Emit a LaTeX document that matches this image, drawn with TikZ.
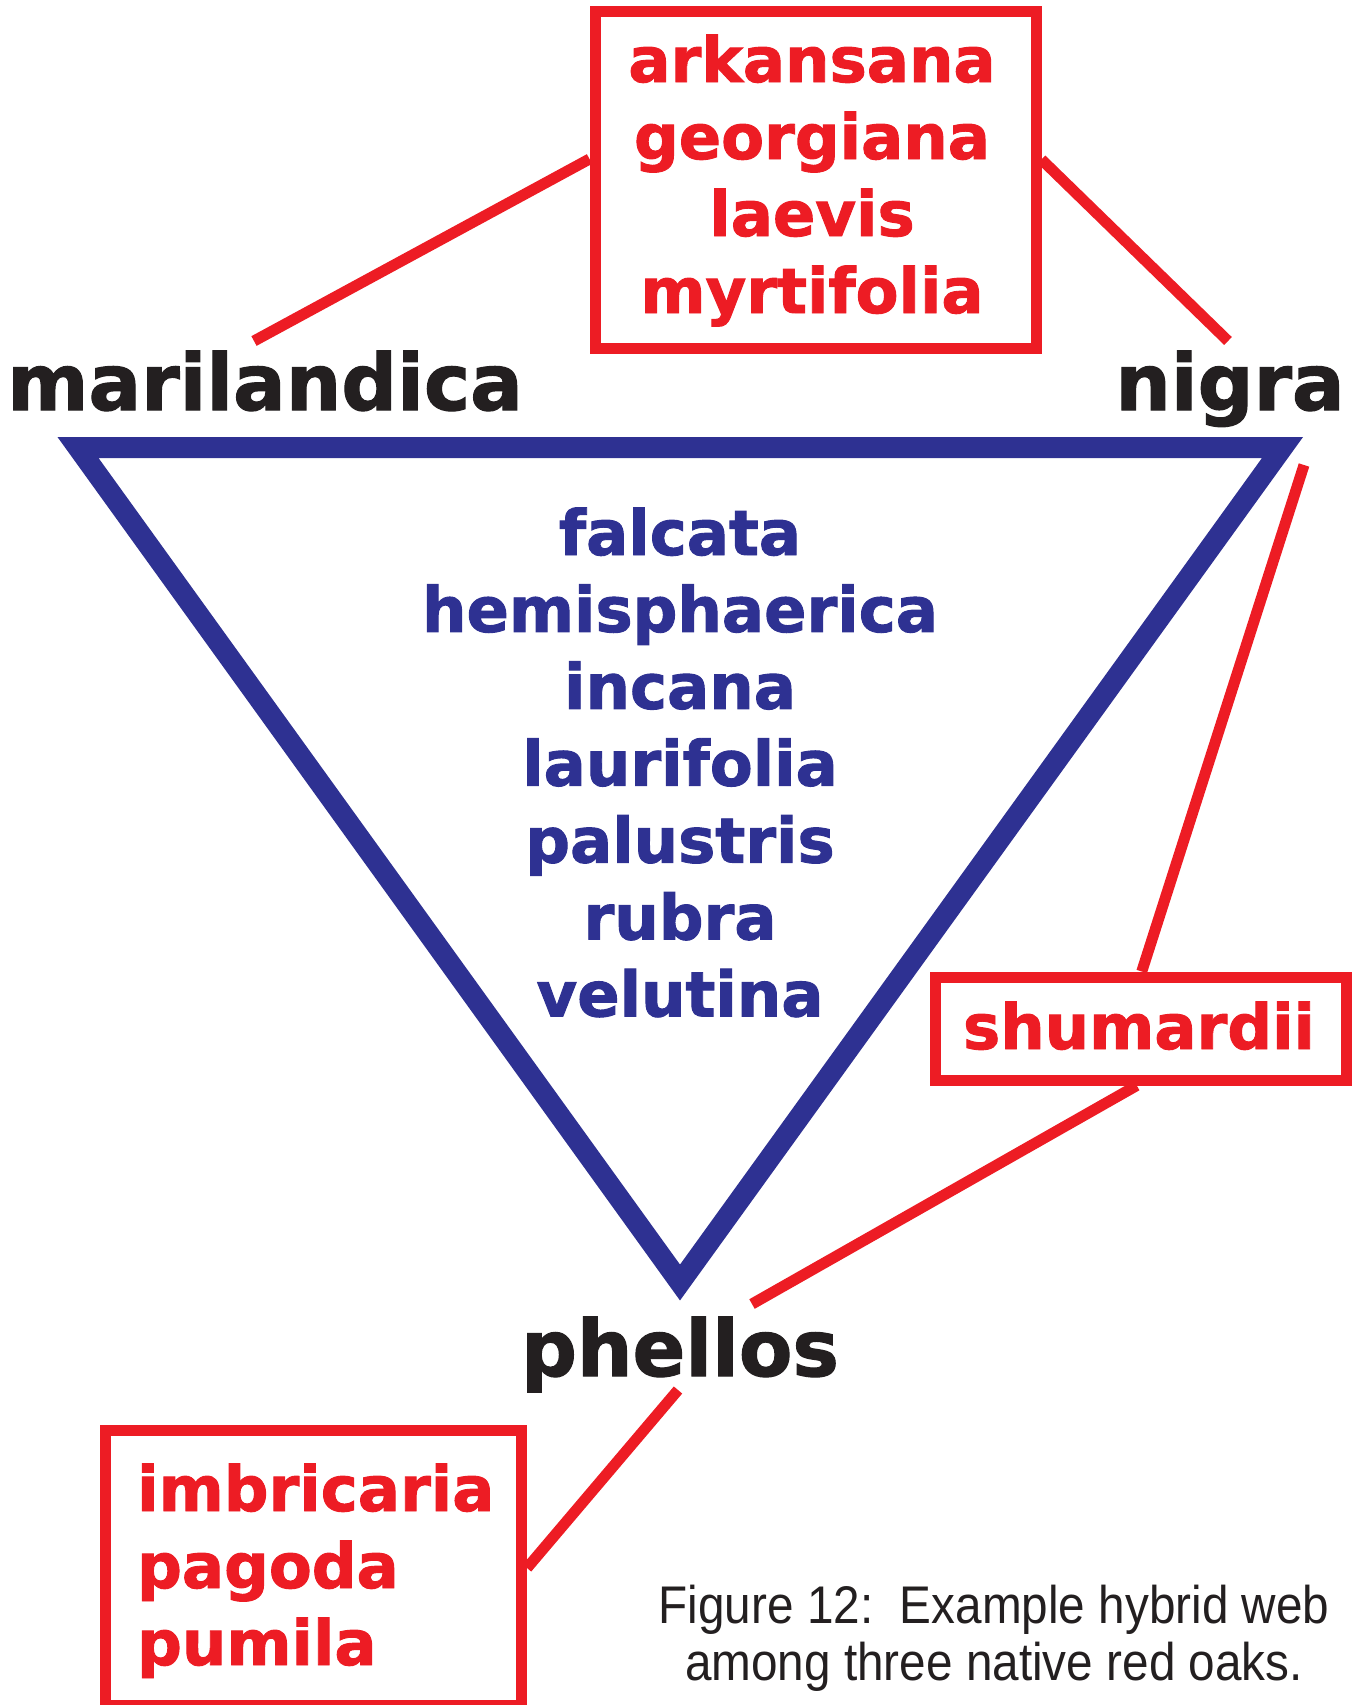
\documentclass[tikz,border=0pt]{standalone}
\usepackage{fontspec}
\usepackage{graphicx}
\setmainfont{Liberation Sans}
\newfontfamily\lblfont{DejaVu Sans}[BoldFeatures={FakeBold=1.5}]
\definecolor{oakred}{HTML}{ED1C24}
\definecolor{oakblue}{HTML}{2E3192}
\definecolor{oakblack}{HTML}{231F20}
\begin{document}
\begin{tikzpicture}[x=1pt,y=-1pt,
  redtext/.style={text=oakred, font=\lblfont\bfseries\fontsize{62.5}{72}\selectfont, inner sep=0pt, anchor=base},
  bluetext/.style={text=oakblue, font=\lblfont\bfseries\fontsize{62.5}{72}\selectfont, inner sep=0pt, anchor=base},
  species/.style={text=oakblack, font=\lblfont\bfseries\fontsize{78}{84}\selectfont, inner sep=0pt, anchor=base},
  redbox/.style={draw=oakred, line width=11pt, inner sep=0pt},
  link/.style={draw=oakred, line width=11pt},
  tri/.style={draw=oakblue, line width=21pt, line join=miter},
  captext/.style={text=oakblack, font=\fontsize{53}{60}\selectfont, inner sep=0pt, anchor=base}]
\useasboundingbox (0,0) rectangle (1356,1705);

% main triangle
\coordinate (tl) at (78,447.5);
\coordinate (tr) at (1282.5,447.5);
\coordinate (bt) at (680,1282.5);
\draw[tri] (tl) -- (tr) -- (bt) -- cycle;

% species labels
\node[species] (mari) at (265,410) {marilandica};
\node[species] (nigra) at (1230,410) {nigra};
\node[species] (phellos) at (680,1376) {phellos};

% inner list
\foreach \t [count=\i from 0] in {falcata,hemisphaerica,incana,laurifolia,palustris,rubra,velutina}
  \node[bluetext] (in\i) at (680,{555+76.9*\i}) {\t};

% top box
\node[redbox, minimum width=441pt, minimum height=337pt] (topbox) at (815.5,179.5) {};
\foreach \t [count=\i from 0] in {arkansana,georgiana,laevis,myrtifolia}
  \node[redtext] (top\i) at (812,{82+77*\i}) {\t};

% shumardii box
\node[redbox, minimum width=411.5pt, minimum height=103pt] (shubox) at (1140.75,1028.5) {};
\node[redtext] (shu) at (1139,1049) {shumardii};

% bottom-left box
\node[redbox, minimum width=416pt, minimum height=275pt] (botbox) at (313.5,1568) {};
\foreach \t [count=\i from 0] in {imbricaria,pagoda,pumila}
  \node[redtext, anchor=base west] (bot\i) at (137,{1511+77*\i}) {\t};

% free ends of connectors near labels
\coordinate (mariEnd) at (254,341);
\coordinate (nigraEndA) at (1228,341);
\coordinate (nigraEndB) at (1304,465);
\coordinate (phelEndA) at (752,1304);
\coordinate (phelEndB) at (678,1390);

% connectors
\draw[link] (mariEnd) -- ([yshift=20.5pt]topbox.west);
\draw[link] ([yshift=20pt]topbox.east) -- (nigraEndA);
\draw[link] (nigraEndB) -- ([xshift=1pt]shubox.north);
\draw[link] ([xshift=-4pt]shubox.south) -- (phelEndA);
\draw[link] (phelEndB) -- (botbox.east);

% caption
\node[captext] (cap1) at (994,1623) {\scalebox{0.9}[1]{Figure 12:\ \ Example hybrid web}};
\node[captext] (cap2) at (994,1680) {\scalebox{0.9}[1]{among three native red oaks.}};
\end{tikzpicture}
\end{document}
